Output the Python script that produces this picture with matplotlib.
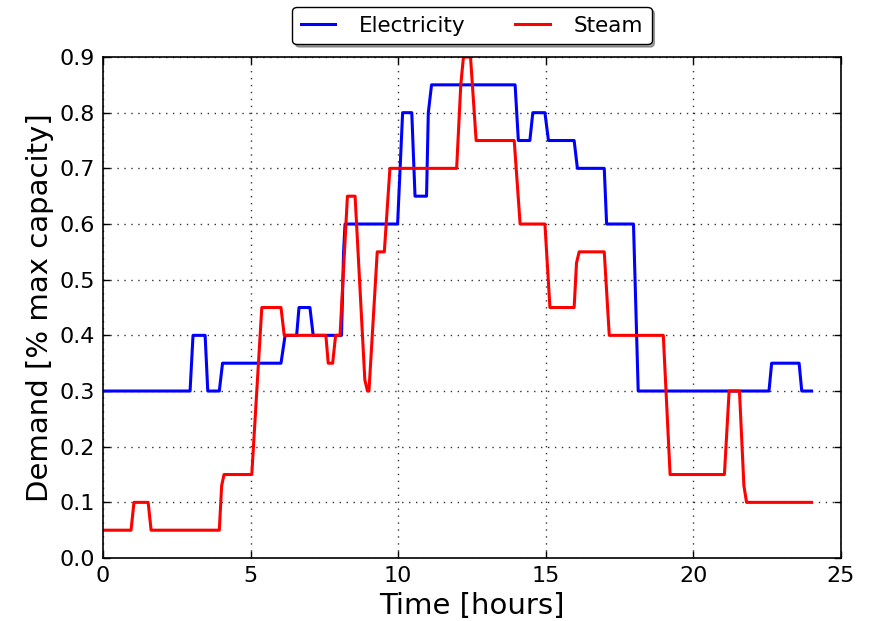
import numpy as np
import matplotlib
matplotlib.use('Agg')
import matplotlib.pyplot as plt

# hourly demand profiles, vertices of the piecewise-linear curves
elec_time = [0.0, 2.95, 3.05, 3.46, 3.55, 3.94, 4.05, 6.03, 6.17, 6.56, 6.64, 7.01, 7.12,
             8.08, 8.15, 8.2, 9.98, 10.15, 10.46, 10.57, 10.96, 11.02, 11.13, 13.96, 14.07,
             14.46, 14.56, 14.97, 15.09, 15.96, 16.07, 16.98, 17.06, 17.97, 18.13, 22.56,
             22.65, 23.58, 23.67, 24.0]
elec_demand = [0.3, 0.3, 0.4, 0.4, 0.3, 0.3, 0.35, 0.35, 0.4, 0.4, 0.45, 0.45, 0.4,
               0.4, 0.55, 0.6, 0.6, 0.8, 0.8, 0.65, 0.65, 0.8, 0.85, 0.85, 0.75,
               0.75, 0.8, 0.8, 0.75, 0.75, 0.7, 0.7, 0.6, 0.6, 0.3, 0.3,
               0.35, 0.35, 0.3, 0.3]

steam_time = [0.0, 0.95, 1.05, 1.53, 1.63, 3.94, 4.02, 4.1, 5.04, 5.38, 6.03, 6.14, 7.55,
              7.63, 7.78, 7.88, 8.03, 8.28, 8.54, 8.87, 8.96, 9.01, 9.29, 9.53, 9.72, 11.98,
              12.12, 12.21, 12.45, 12.64, 13.93, 14.13, 14.97, 15.14, 15.96, 16.04, 16.13,
              16.98, 17.15, 18.98, 19.21, 21.05, 21.21, 21.56, 21.71, 21.8, 24.0]
steam_demand = [0.05, 0.05, 0.1, 0.1, 0.05, 0.05, 0.13, 0.15, 0.15, 0.45, 0.45, 0.4, 0.4,
                0.35, 0.35, 0.4, 0.4, 0.65, 0.65, 0.32, 0.3, 0.3, 0.55, 0.55, 0.7, 0.7,
                0.85, 0.9, 0.9, 0.75, 0.75, 0.6, 0.6, 0.45, 0.45, 0.53, 0.55,
                0.55, 0.4, 0.4, 0.15, 0.15, 0.3, 0.3, 0.13, 0.1, 0.1]

fig = plt.figure(figsize=(8.69, 6.21), dpi=100, facecolor='white')
ax = fig.add_axes([0.1185, 0.1014, 0.8493, 0.8068])

ax.plot(elec_time, elec_demand, color='blue', lw=2.2, label='Electricity')
ax.plot(steam_time, steam_demand, color='red', lw=2.2, label='Steam')

ax.set_xlim(0, 25)
ax.set_ylim(0, 0.9)
ax.set_xticks([0, 5, 10, 15, 20, 25])
ax.set_yticks(np.arange(0, 0.91, 0.1))
ax.set_yticklabels(['%.1f' % v for v in np.arange(0, 0.91, 0.1)])
ax.grid(True, color='black', linestyle=(0, (1, 4)), linewidth=1.0, alpha=0.8)
ax.tick_params(direction='in', top=True, right=True, length=5, width=1,
               labelsize=16, pad=6)
for sp in ax.spines.values():
    sp.set_linewidth(1.2)

ax.set_xlabel('Time [hours]', fontsize=21)
ax.set_ylabel('Demand [% max capacity]', fontsize=21)

leg = ax.legend(loc='upper center', bbox_to_anchor=(0.5, 1.0998), ncol=2,
                fontsize=15.5, fancybox=True, shadow=True, borderaxespad=0,
                handlelength=1.6, handletextpad=1.1, columnspacing=2.3)
leg.get_frame().set_edgecolor('black')
leg.get_frame().set_linewidth(1.0)

fig.savefig('out.png', dpi=100, facecolor='white')
